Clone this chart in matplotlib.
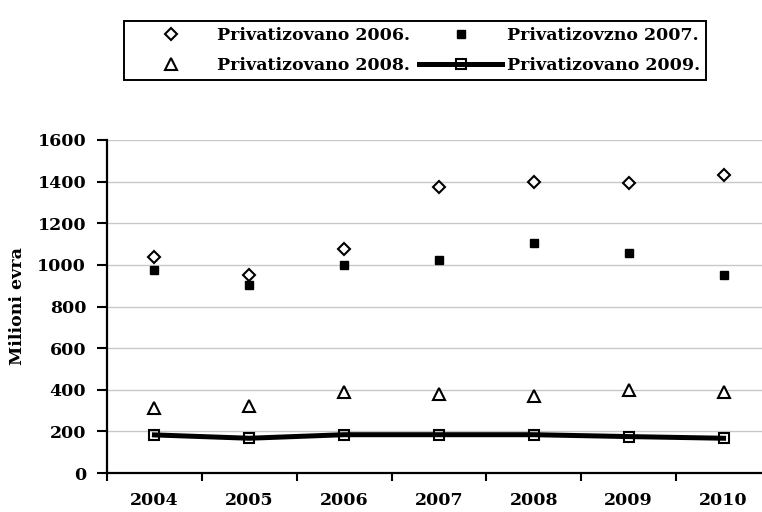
import numpy as np
import matplotlib
matplotlib.use("Agg")
import matplotlib.pyplot as plt

godine = ["2004", "2005", "2006", "2007", "2008", "2009", "2010"]
priv_2006 = [1037, 949, 1075, 1373, 1400, 1392, 1431]
priv_2007 = [973, 905, 1001, 1022, 1107, 1059, 953]
priv_2008 = [311, 322, 388, 378, 369, 399, 388]
priv_2009 = [183, 167, 184, 184, 184, 175, 167]
y_ticks = [0, 200, 400, 600, 800, 1000, 1200, 1400, 1600]

plt.rcParams['font.family'] = ['DejaVu Serif']
plt.rcParams['font.weight'] = 'bold'
plt.rcParams['axes.labelweight'] = 'bold'
plt.rcParams['font.size'] = 12.5

fig = plt.figure(figsize=(7.62, 5.12), dpi=100)
ax = fig.add_axes([107/762, 1-473/512, (771-107)/762, (473-140)/512])

x = np.arange(len(godine))

h1, = ax.plot(x, priv_2006, linestyle='none', marker='D', markersize=6.5,
              markerfacecolor='white', markeredgecolor='black', markeredgewidth=1.5,
              label='Privatizovano 2006.')
h2, = ax.plot(x, priv_2007, linestyle='none', marker='s', markersize=5.5,
              color='black', label='Privatizovzno 2007.')
h3, = ax.plot(x, priv_2008, linestyle='none', marker='^', markersize=9,
              markerfacecolor='white', markeredgecolor='black', markeredgewidth=1.5,
              label='Privatizovano 2008.')
h4, = ax.plot(x, priv_2009, color='black', linewidth=3.6, marker='s', markersize=7.5,
              markerfacecolor='none', markeredgecolor='black', markeredgewidth=1.5,
              label='Privatizovano 2009.')

ax.set_xlim(-0.5, len(godine) - 0.5)
ax.set_ylim(0, 1600)
ax.set_yticks(y_ticks)
ax.set_xticks(x)
ax.set_xticklabels(godine)
ax.set_xticks(np.arange(len(godine) + 1) - 0.5, minor=True)
ax.tick_params(axis='x', which='major', length=0, pad=14)
ax.tick_params(axis='x', which='minor', length=6, width=1.5, direction='out')
ax.tick_params(axis='y', length=7, width=1.5, direction='out', pad=8)

ax.grid(axis='y', color='#c8c8c8', linewidth=1)
ax.set_axisbelow(True)
for s in ['top', 'right']:
    ax.spines[s].set_visible(False)
for s in ['left', 'bottom']:
    ax.spines[s].set_linewidth(1.6)
    ax.spines[s].set_zorder(5)

ax.set_ylabel('Milioni evra', labelpad=8)

leg = fig.legend(handles=[h1, h3, h2, h4], ncol=2, loc='upper left',
                 bbox_to_anchor=(115/762, 1-12/512), numpoints=1,
                 handlelength=4.77, handletextpad=0.28, columnspacing=0.52,
                 borderpad=0.35, labelspacing=0.75, fancybox=False,
                 edgecolor='black', framealpha=1)
leg.get_frame().set_linewidth(1.4)

fig.savefig('out.png', dpi=100)
